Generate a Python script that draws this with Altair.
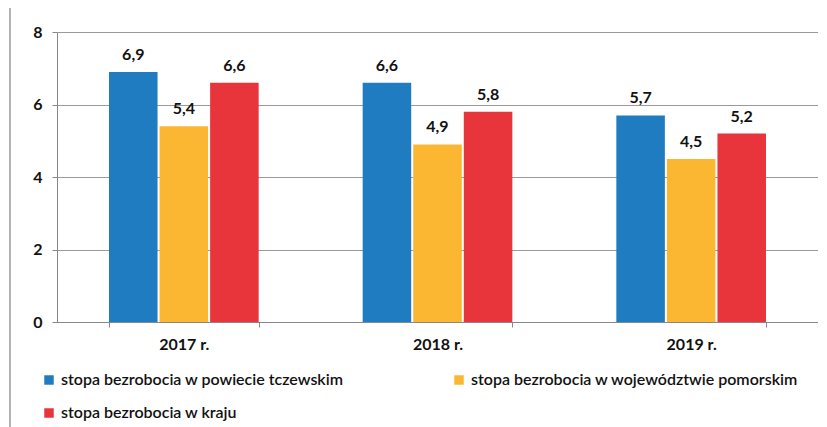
import altair as alt
import pandas as pd

years = ["2017 r.", "2018 r.", "2019 r."]
series = [
    "stopa bezrobocia w powiecie tczewskim",
    "stopa bezrobocia w województwie pomorskim",
    "stopa bezrobocia w kraju",
]
powiat = [6.9, 6.6, 5.7]
woj = [5.4, 4.9, 4.5]
kraj = [6.6, 5.8, 5.2]
colors = ["#1f7cc1", "#fbb732", "#e8353b"]

# legend fills column-wise, so order its entries to read row-wise like the original
legend_order = [series[0], series[2], series[1]]
legend_colors = [colors[0], colors[2], colors[1]]

rows = []
for vals, s in zip([powiat, woj, kraj], series):
    for y, v in zip(years, vals):
        rows.append({"rok": y, "seria": s, "wartosc": v,
                     "etykieta": f"{v:.1f}".replace(".", ",")})
df = pd.DataFrame(rows)

FONT = "Lato"

base = alt.Chart(df).encode(
    x=alt.X("rok:N", sort=years, title=None,
            scale=alt.Scale(paddingInner=0.41, paddingOuter=0.205),
            axis=alt.Axis(labelAngle=0, tickBand="extent", labelPadding=9,
                          domainColor="#888888", tickColor="#888888", tickSize=5,
                          labelFont=FONT, labelFontSize=16, labelFontWeight="bold",
                          labelColor="#111111")),
    xOffset=alt.XOffset("seria:N", sort=series, scale=alt.Scale(paddingInner=0.04)),
)

bars = base.mark_bar().encode(
    y=alt.Y("wartosc:Q", title=None,
            scale=alt.Scale(domain=[0, 8]),
            axis=alt.Axis(values=[0, 2, 4, 6, 8], format="d", gridColor="#9a9a9a",
                          domainColor="#888888", tickColor="#888888", tickSize=5,
                          labelPadding=10,
                          labelFont=FONT, labelFontSize=16, labelFontWeight="bold",
                          labelColor="#111111")),
    color=alt.Color("seria:N",
                    scale=alt.Scale(domain=legend_order, range=legend_colors),
                    legend=alt.Legend(title=None, orient="none", legendX=-16, legendY=340,
                                      columns=2, columnPadding=107, rowPadding=17,
                                      symbolType="square", symbolSize=90,
                                      symbolStrokeWidth=0,
                                      labelFont=FONT, labelFontSize=16,
                                      labelFontWeight=600, labelColor="#111111",
                                      labelLimit=400)),
)

labels = base.mark_text(baseline="bottom", dy=-9, font=FONT, fontSize=16,
                        fontWeight="bold", color="#111111").encode(
    y=alt.Y("wartosc:Q"),
    text="etykieta:N",
)

frame = alt.Chart(pd.DataFrame({"k": [0]})).mark_rect(
    fill=None, stroke="#9a9a9a", strokeWidth=1.5, clip=False
).encode(
    x=alt.value(-47), x2=alt.value(800), y=alt.value(-26), y2=alt.value(440)
)

chart = alt.layer(frame, bars, labels).properties(
    width=761, height=290,
    padding={"left": 49, "top": 24, "right": 0, "bottom": 110},
    autosize=alt.AutoSizeParams(type="none"),
).configure_view(stroke=None).configure(background="white")

chart.save("out.html", embed_options={"renderer": "svg", "actions": False})
